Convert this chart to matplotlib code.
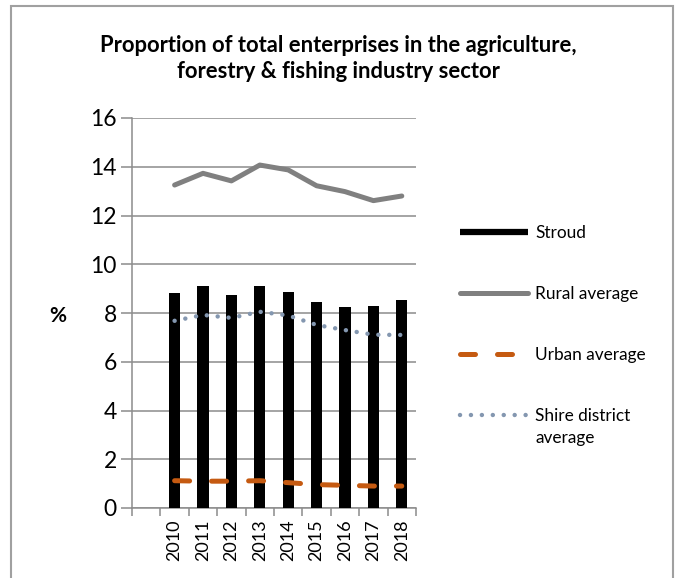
import matplotlib
matplotlib.use("Agg")
import matplotlib.pyplot as plt
from matplotlib.lines import Line2D
from matplotlib.patches import Rectangle

plt.rcParams['font.family'] = ['Lato', 'DejaVu Sans']

# categories (first slot is empty in the original chart)
years = ["", "2010", "2011", "2012", "2013", "2014", "2015", "2016", "2017", "2018"]
stroud = [None, 8.81, 9.12, 8.72, 9.12, 8.85, 8.44, 8.25, 8.27, 8.53]
rural = [None, 13.25, 13.73, 13.42, 14.07, 13.87, 13.22, 12.98, 12.61, 12.80]
urban = [None, 1.12, 1.10, 1.10, 1.12, 1.04, 0.96, 0.93, 0.90, 0.90]
shire = [None, 7.68, 7.92, 7.80, 8.05, 7.90, 7.51, 7.30, 7.11, 7.10]
yticks = [0, 2, 4, 6, 8, 10, 12, 14, 16]

grid_col = '#8c8c8c'
urban_dash = (3.0, 4.4)
shire_dots = (0.01, 2.45)

fig = plt.figure(figsize=(6.77, 5.78), dpi=100)
ax = fig.add_axes([132 / 677, 1 - 508 / 578, (416 - 132) / 677, (508 - 118) / 578])

xs = [i for i, v in enumerate(stroud) if v is not None]
ax.bar(xs, [stroud[i] for i in xs], width=0.4, color='black', zorder=3)
ax.plot(xs, [rural[i] for i in xs], color='#808080', lw=3.6, solid_capstyle='round',
        solid_joinstyle='round', zorder=4)
ax.plot(xs, [urban[i] for i in xs], color='#C55A11', lw=3.6, dash_capstyle='round',
        dashes=urban_dash, zorder=4)
ax.plot(xs, [shire[i] for i in xs], color='#8497B0', lw=3.2, dash_capstyle='round',
        dashes=shire_dots, zorder=4)

ax.set_ylim(0, 16)
ax.set_xlim(-0.5, len(years) - 0.5)
ax.set_yticks(yticks)
ax.yaxis.grid(True, color=grid_col, lw=1.1, zorder=0)
ax.set_axisbelow(True)

ax.set_xticks([i - 0.5 for i in range(len(years) + 1)])
ax.set_xticklabels([])
ax.set_xticks(range(len(years)), minor=True)
ax.set_xticklabels(years, minor=True, rotation=90, fontsize=13)
ax.tick_params(axis='x', which='major', length=6, color=grid_col, width=1.1, direction='out')
ax.tick_params(axis='x', which='minor', length=0, pad=8)
ax.tick_params(axis='y', length=8, color=grid_col, width=1.1, labelsize=16.5, pad=3)

for s in ['top', 'right']:
    ax.spines[s].set_visible(False)
for s in ['left', 'bottom']:
    ax.spines[s].set_color(grid_col)
    ax.spines[s].set_linewidth(1.1)

ax.set_ylabel('%', rotation=0, fontsize=15, fontweight='bold', va='center', ha='center')
ax.yaxis.set_label_coords(-0.26, 0.492)

fig.text(0.5, 1 - 58.5 / 578, 'Proportion of total enterprises in the agriculture,\nforestry & fishing industry sector',
         ha='center', va='center', fontsize=15.8, fontweight='bold', linespacing=1.25)

handles = [
    Line2D([], [], color='black', lw=4.5, solid_capstyle='butt'),
    Line2D([], [], color='#808080', lw=3.6, solid_capstyle='round'),
    Line2D([], [], color='#C55A11', lw=3.6, dash_capstyle='round', dashes=urban_dash),
    Line2D([], [], color='#8497B0', lw=3.2, dash_capstyle='round', dashes=shire_dots),
]
labels = ['Stroud', 'Rural average', 'Urban average', 'Shire district']
leg = fig.legend(handles, labels, loc='upper left', bbox_to_anchor=(444 / 677, 1 - 210 / 578),
                 frameon=False, fontsize=12.4, handlelength=4.0, handletextpad=0.4,
                 labelspacing=2.6)

# second line of the last legend label sits under the first one
fig.canvas.draw()
bb = leg.get_texts()[3].get_window_extent().transformed(fig.transFigure.inverted())
fig.text(bb.x0, bb.y0 - 22 / 578, 'average', fontsize=12.4, ha='left', va='bottom')

fig.patches.append(Rectangle((11 / 677, -0.05), (673 - 11) / 677, 1.05 - 6 / 578,
                             transform=fig.transFigure, fill=False, edgecolor='#a0a0a0', lw=1.5))

fig.savefig('out.png', dpi=100)
